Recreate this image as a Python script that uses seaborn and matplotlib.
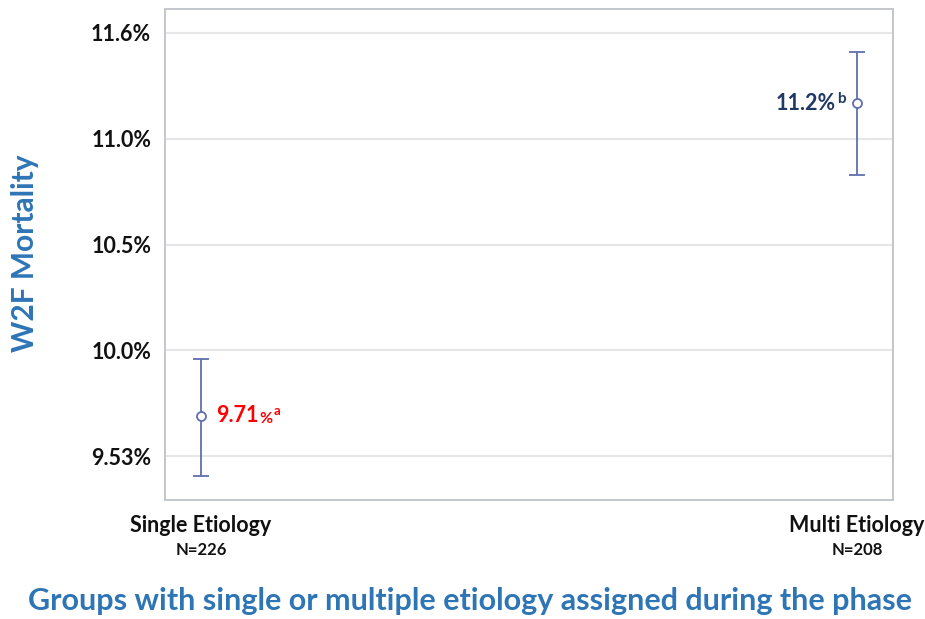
import numpy as np
import pandas as pd
import matplotlib
matplotlib.use("Agg")
import matplotlib.pyplot as plt
import seaborn as sns

# Data
groups = ["Single Etiology", "Multi Etiology"]
group_n = ["N=226", "N=208"]
mortality = [9.71, 11.2]          # W2F mortality, %
ci_low = [9.44, 10.83]
ci_high = [9.96, 11.49]
value_labels = ["9.71", "11.2%"]
superscripts = ["a", "b"]
ytick_values = [9.53, 10.0, 10.5, 11.0, 11.6]
ytick_labels = ["9.53%", "10.0%", "10.5%", "11.0%", "11.6%"]

sns.set_theme(style="white")
FONT = ["Lato", "DejaVu Sans"]
plt.rcParams["font.family"] = FONT
plt.rcParams["font.weight"] = "bold"

df = pd.DataFrame({"group": groups, "mortality": mortality,
                   "low": ci_low, "high": ci_high})

# Y axis spaced evenly between the labelled tick values
tv = np.array(ytick_values, float)
tp = np.arange(len(tv), dtype=float)


def _fwd(v):
    v = np.asarray(v, float)
    out = np.interp(v, tv, tp)
    out = np.where(v < tv[0], (v - tv[0]) / (tv[1] - tv[0]), out)
    out = np.where(v > tv[-1], tp[-1] + (v - tv[-1]) / (tv[-1] - tv[-2]), out)
    return out


def _inv(p):
    p = np.asarray(p, float)
    out = np.interp(p, tp, tv)
    out = np.where(p < tp[0], tv[0] + p * (tv[1] - tv[0]), out)
    out = np.where(p > tp[-1], tv[-1] + (p - tp[-1]) * (tv[-1] - tv[-2]), out)
    return out


fig = plt.figure(figsize=(9.25, 6.19), dpi=100)
ax = fig.add_axes([165 / 925, 1 - 500 / 619, (893 - 165) / 925, (500 - 9) / 619])
ax.set_yscale("function", functions=(_fwd, _inv))

mark_color = "#5F6FAF"
ax.errorbar(df["group"], df["mortality"],
            yerr=[df["mortality"] - df["low"], df["high"] - df["mortality"]],
            fmt="none", ecolor=mark_color, elinewidth=1.3, capsize=6,
            capthick=1.3, zorder=3)
sns.scatterplot(data=df, x="group", y="mortality", ax=ax, marker="o", s=42,
                facecolors="white", edgecolor=mark_color, linewidth=1.3,
                zorder=4, legend=False)

ax.set_xlim(-0.055, 1.055)
ax.set_ylim(9.335, 11.736)
ax.set_yticks(ytick_values)
ax.set_yticklabels(ytick_labels)
ax.yaxis.grid(True, color="#E6E6E6", linewidth=1.5)
ax.xaxis.grid(False)
ax.set_axisbelow(True)
for s in ax.spines.values():
    s.set_color("#C3C6CB")
    s.set_linewidth(1.4)
ax.tick_params(axis="both", which="major", direction="out", length=6,
               width=1.2, color="#B8BBC0", pad=4)
ax.tick_params(axis="y", labelsize=15.5, labelcolor="#111111")
ax.tick_params(axis="x", labelsize=15.5, labelcolor="#111111", pad=5)
ax.set_xlabel("")
ax.set_ylabel("")
for lab in ax.get_xticklabels() + ax.get_yticklabels():
    lab.set_fontweight("bold")

# Group sizes under the category names
for i, n in enumerate(group_n):
    ax.annotate(n, xy=(i, 0), xycoords=("data", "axes fraction"),
                xytext=(0, -36), textcoords="offset points",
                ha="center", va="center", fontsize=12, fontweight="bold",
                color="#111111")

# Value labels with superscript letters
t1 = ax.annotate(value_labels[0], xy=(0, mortality[0]), xytext=(11, 0),
                 textcoords="offset points", ha="left", va="center",
                 fontsize=15.5, fontweight="bold", color="#FF0000")
t1b = ax.annotate("%", xy=(1, 0), xycoords=t1, xytext=(0.5, 0.3),
                  textcoords="offset points", ha="left", va="bottom",
                  fontsize=11.5, fontweight="bold", color="#FF0000")
ax.annotate(superscripts[0], xy=(1, 1), xycoords=(t1b, t1), xytext=(0.8, 0),
            textcoords="offset points", ha="left", va="top",
            fontsize=9.5, fontweight="bold", color="#FF0000")

t2 = ax.annotate(value_labels[1], xy=(1, mortality[1]), xytext=(-15, 0),
                 textcoords="offset points", ha="right", va="center",
                 fontsize=15.5, fontweight="bold", color="#1F3864")
ax.annotate(superscripts[1], xy=(1, 1), xycoords=t2, xytext=(0.5, 0.5),
            textcoords="offset points", ha="left", va="top",
            fontsize=11, fontweight="bold", color="#1F3864")

# Axis titles
fig.text(25 / 925, 1 - 253 / 619, "W2F Mortality", rotation=90,
         ha="center", va="center", fontsize=21.5, fontweight="bold",
         color="#2E75B6")
fig.text(470 / 925, 1 - 601 / 619,
         "Groups with single or multiple etiology assigned during the phase",
         ha="center", va="center", fontsize=22, fontweight="bold",
         color="#2E75B6")

fig.savefig("out.png", dpi=100, facecolor="white")
